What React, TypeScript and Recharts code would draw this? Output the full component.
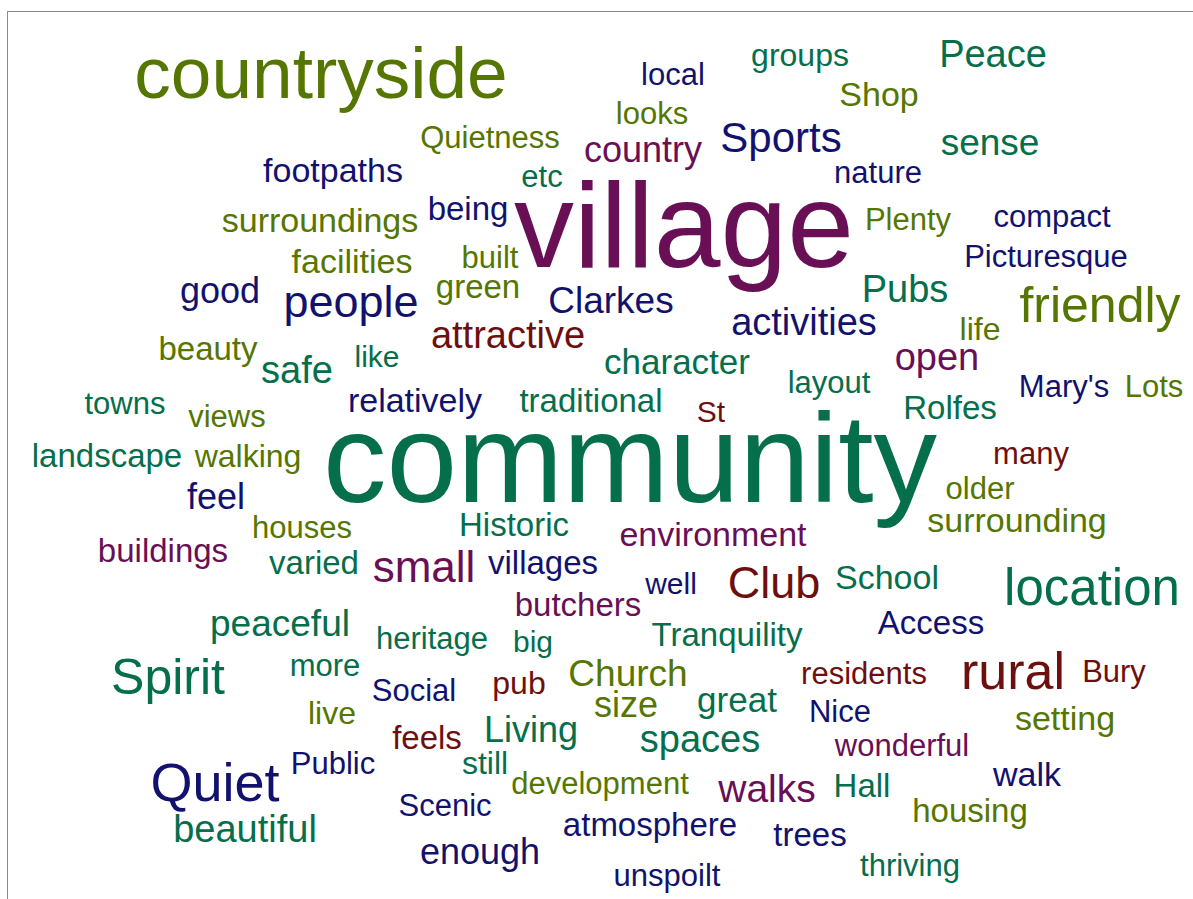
import React from "react";
import { ScatterChart, Scatter, XAxis, YAxis, ZAxis } from "recharts";

const words = [
  "countryside", "village", "community", "Peace", "groups", "local", "looks", "Shop", "Quietness", "country",
  "Sports", "sense", "footpaths", "etc", "nature", "surroundings", "being", "Plenty", "compact", "facilities",
  "built", "Picturesque", "good", "people", "green", "Clarkes", "Pubs", "friendly", "activities", "attractive",
  "life", "beauty", "safe", "like", "open", "character", "layout", "Mary's", "Lots", "towns",
  "views", "relatively", "traditional", "St", "Rolfes", "landscape", "walking", "many", "feel", "older",
  "houses", "Historic", "surrounding", "environment", "buildings", "varied", "small", "villages", "Club", "well",
  "School", "location", "butchers", "peaceful", "Access", "heritage", "big", "Tranquility", "Spirit", "more",
  "Church", "residents", "rural", "Bury", "Social", "pub", "size", "great", "Nice", "setting",
  "live", "Living", "feels", "spaces", "wonderful", "Quiet", "Public", "still", "development", "walks",
  "Hall", "walk", "beautiful", "Scenic", "housing", "atmosphere", "trees", "enough", "thriving", "unspoilt",
];

const layoutX = [
  321, 684, 630, 993, 800, 673, 652, 879, 490, 643,
  781, 990, 333, 542, 878, 320, 468, 908, 1052, 352,
  490, 1046, 220, 351, 478, 611, 905, 1100, 804, 508,
  980, 208, 297, 377, 937, 677, 829, 1064, 1154, 125,
  227, 415, 591, 711, 950, 107, 248, 1031, 216, 980,
  302, 514, 1017, 713, 163, 314, 424, 543, 774, 671,
  887, 1092, 578, 280, 931, 432, 533, 727, 168, 325,
  628, 864, 1013, 1114, 414, 519, 626, 737, 840, 1065,
  332, 531, 427, 700, 902, 215, 333, 485, 600, 767,
  862, 1027, 245, 445, 970, 650, 810, 480, 910, 667,
];

const layoutY = [
  98, 267, 502, 67, 66, 85, 124, 106, 148, 162,
  152, 155, 182, 187, 183, 232, 220, 230, 227, 273,
  268, 267, 303, 317, 298, 313, 302, 322, 335, 348,
  340, 360, 383, 367, 370, 374, 393, 397, 397, 414,
  427, 412, 412, 422, 419, 467, 467, 464, 509, 499,
  538, 536, 532, 546, 562, 574, 582, 574, 598, 594,
  589, 605, 616, 636, 634, 649, 652, 646, 694, 676,
  686, 684, 689, 682, 701, 694, 717, 712, 722, 730,
  724, 742, 749, 752, 756, 801, 774, 774, 794, 802,
  797, 786, 842, 816, 822, 836, 846, 864, 876, 886,
];

// word frequency weight (font size = 2.5 x weight)
const freq = [
  29.2, 48, 50.8, 15.2, 12.8, 12.4, 12.4, 13.6, 12.4, 14.4,
  16.8, 14.8, 13.6, 12.4, 12.4, 13.6, 13.2, 12.4, 12.4, 13.6,
  12.4, 12.4, 14.4, 18, 13.2, 14.8, 15.2, 20, 15.2, 15.2,
  12.8, 13.2, 15.2, 12, 15.2, 14, 12.4, 12.4, 12.4, 12.4,
  12.4, 13.6, 13.2, 12, 13.2, 13.2, 12.8, 12.4, 14.4, 12.4,
  12.4, 13.2, 13.6, 13.6, 13.2, 13.2, 17.6, 13.2, 18, 12,
  13.6, 20.4, 13.2, 14.8, 13.2, 12.4, 12, 13.2, 20, 12.4,
  14.8, 12.4, 20.8, 12.4, 12.4, 12.8, 14.4, 14, 12.4, 13.6,
  12.8, 14.4, 13.2, 15.2, 12.4, 21.6, 12.4, 12.8, 12.4, 15.6,
  13.2, 13.6, 15.2, 12.4, 13.2, 13.2, 13.2, 14.4, 12.4, 12.4,
];

// colour cluster: 0 olive, 1 green, 2 purple, 3 navy, 4 dark red
const group = [
  0, 2, 1, 1, 1, 3, 0, 0, 0, 2,
  3, 1, 3, 1, 3, 0, 3, 0, 3, 0,
  0, 3, 3, 3, 0, 3, 1, 0, 3, 4,
  0, 0, 1, 1, 2, 1, 1, 3, 0, 1,
  0, 3, 1, 4, 1, 1, 0, 4, 3, 0,
  0, 1, 0, 2, 2, 1, 2, 3, 4, 3,
  1, 1, 2, 1, 3, 1, 1, 1, 1, 1,
  0, 4, 4, 4, 3, 4, 0, 1, 3, 0,
  0, 1, 4, 1, 2, 3, 3, 1, 0, 2,
  1, 3, 1, 3, 0, 3, 3, 3, 1, 3,
];

const PALETTE = ["#557600", "#056e4b", "#690f55", "#12126e", "#6e0f0f"];

const data = words.map((w, i) => ({
  word: w,
  x: layoutX[i],
  y: layoutY[i],
  z: freq[i],
  g: group[i],
}));

const WordShape = (props: any) => {
  const { cx, cy, payload } = props;
  const fs = payload.z * 2.5;
  return (
    <text
      x={cx}
      y={cy}
      textAnchor="middle"
      fontSize={fs}
      fill={PALETTE[payload.g]}
      fontFamily="'Liberation Sans', Arial, Helvetica, sans-serif"
    >
      {payload.word}
    </text>
  );
};

export default function App() {
  return (
    <div style={{ position: "absolute", left: 0, top: 0, width: 1193, height: 899, background: "#fff" }}>
      <div
        style={{
          position: "absolute",
          left: 7,
          top: 11,
          width: 1200,
          height: 900,
          borderLeft: "1.5px solid #8a8a8a",
          borderTop: "1.5px solid #8a8a8a",
        }}
      />
      <div style={{ position: "absolute", left: 0, top: 0 }}>
        <ScatterChart width={1193} height={899} margin={{ top: 0, right: 0, bottom: 0, left: 0 }}>
          <XAxis type="number" dataKey="x" domain={[0, 1193]} allowDataOverflow hide />
          <YAxis type="number" dataKey="y" domain={[0, 899]} reversed allowDataOverflow hide />
          <ZAxis type="number" dataKey="z" domain={[0, 100]} range={[0, 250]} />
          <Scatter data={data} shape={WordShape} isAnimationActive={false} />
        </ScatterChart>
      </div>
    </div>
  );
}
